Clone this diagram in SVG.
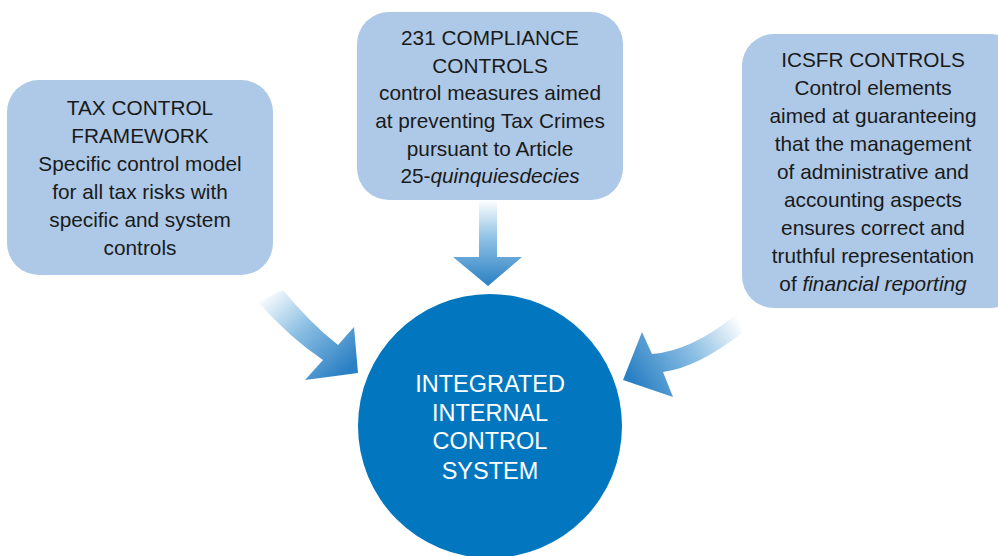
<svg xmlns="http://www.w3.org/2000/svg" width="998" height="556" viewBox="0 0 998 556">
<defs>
<style>
.box{fill:#adc9e7;}
.t{font-family:"Liberation Sans",Arial,sans-serif;font-size:20.8px;fill:#1a1a1a;text-anchor:middle;}
.c{font-family:"Liberation Sans",Arial,sans-serif;font-size:23.5px;fill:#ffffff;text-anchor:middle;}
</style>
<linearGradient id="gTop" gradientUnits="userSpaceOnUse" x1="0" y1="200" x2="0" y2="286">
<stop offset="0" stop-color="#ffffff"/>
<stop offset="0.45" stop-color="#8ec0e4"/>
<stop offset="1" stop-color="#2a80c4"/>
</linearGradient>
<linearGradient id="gLeft" gradientUnits="userSpaceOnUse" x1="268" y1="290" x2="345" y2="372">
<stop offset="0" stop-color="#ffffff"/>
<stop offset="0.45" stop-color="#8ec0e4"/>
<stop offset="1" stop-color="#2a80c4"/>
</linearGradient>
<linearGradient id="gRight" gradientUnits="userSpaceOnUse" x1="740" y1="320" x2="635" y2="385">
<stop offset="0" stop-color="#ffffff"/>
<stop offset="0.45" stop-color="#8ec0e4"/>
<stop offset="1" stop-color="#2a80c4"/>
</linearGradient>
</defs>
<rect width="998" height="556" fill="#ffffff"/>
<g id="connectors">
<path d="M479,200 L497,200 L497,257 L522,257 L488,286 L453,257 L479,257 Z" fill="url(#gTop)"/>
<path d="M283,290 Q309.5,322.5 338,345 L354,327 L358,373 L305,380 L323,360 Q290,338 258,302 Z" fill="url(#gLeft)"/>
<path d="M737,314 Q691.5,351 652,354 L642,332 L623,380 L673,397 L663,372 Q697.5,367.5 742,333 Z" fill="url(#gRight)"/>
</g>
<g id="tax-control-framework">
<rect class="box" x="7" y="80" width="266" height="195" rx="32"/>
<text class="t" x="140" y="115">TAX CONTROL</text>
<text class="t" x="140" y="143">FRAMEWORK</text>
<text class="t" x="140" y="171">Specific control model</text>
<text class="t" x="140" y="199">for all tax risks with</text>
<text class="t" x="140" y="227">specific and system</text>
<text class="t" x="140" y="255">controls</text>
</g>
<g id="compliance-231">
<rect class="box" x="357" y="12" width="266" height="188" rx="32"/>
<text class="t" x="490" y="45">231 COMPLIANCE</text>
<text class="t" x="490" y="73">CONTROLS</text>
<text class="t" x="490" y="100">control measures aimed</text>
<text class="t" x="490" y="128">at preventing Tax Crimes</text>
<text class="t" x="490" y="156">pursuant to Article</text>
<text class="t" x="490" y="183">25-<tspan font-style="italic">quinquiesdecies</tspan></text>
</g>
<g id="icsfr-controls">
<rect class="box" x="742" y="34" width="280" height="274" rx="32"/>
<text class="t" x="873" y="67">ICSFR CONTROLS</text>
<text class="t" x="873" y="95">Control elements</text>
<text class="t" x="873" y="123">aimed at guaranteeing</text>
<text class="t" x="873" y="151">that the management</text>
<text class="t" x="873" y="179">of administrative and</text>
<text class="t" x="873" y="207">accounting aspects</text>
<text class="t" x="873" y="235">ensures correct and</text>
<text class="t" x="873" y="263">truthful representation</text>
<text class="t" x="873" y="291">of <tspan font-style="italic">financial reporting</tspan></text>
</g>
<g id="integrated-system">
<circle cx="490" cy="426" r="132" fill="#0277bf"/>
<text class="c" x="490" y="392">INTEGRATED</text>
<text class="c" x="490" y="421">INTERNAL</text>
<text class="c" x="490" y="449">CONTROL</text>
<text class="c" x="490" y="479">SYSTEM</text>
</g>
</svg>
